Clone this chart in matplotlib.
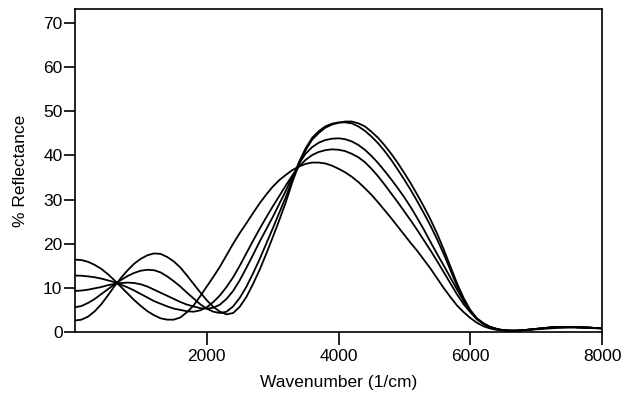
import matplotlib
matplotlib.use("Agg")
import matplotlib.pyplot as plt

wavenumber = list(range(0, 8001, 100))

curve1 = [16.4, 16.3, 15.9, 15.2, 14.3, 13.1, 11.7, 10.2, 8.7, 7.2,
          5.9, 4.7, 3.8, 3.1, 2.8, 2.8, 3.3, 4.5, 6.0, 8.1,
          10.3, 12.5, 14.8, 17.4, 20.0, 22.4, 24.6, 26.9, 29.1, 31.1,
          32.9, 34.4, 35.6, 36.7, 37.5, 38.1, 38.4, 38.4, 38.2, 37.7,
          37.0, 36.2, 35.2, 34.0, 32.6, 31.1, 29.4, 27.6, 25.8, 23.9,
          22.0, 20.1, 18.3, 16.3, 14.3, 12.1, 9.9, 7.9, 6.0, 4.5,
          3.2, 2.1, 1.3, 0.8, 0.5, 0.35, 0.3, 0.3, 0.4, 0.5,
          0.6, 0.7, 0.8, 0.9, 0.95, 1.0, 1.0, 0.95, 0.9, 0.85, 0.8]
curve2 = [12.8, 12.75, 12.6, 12.4, 12.1, 11.7, 11.3, 10.7, 10.1, 9.4,
          8.6, 7.8, 7.0, 6.4, 5.8, 5.3, 5.0, 4.7, 4.6, 4.9,
          5.6, 6.8, 8.3, 10.2, 12.4, 15.0, 17.8, 20.6, 23.3, 25.9,
          28.4, 30.8, 33.2, 35.5, 37.5, 39.0, 40.1, 40.8, 41.2, 41.4,
          41.3, 41.0, 40.4, 39.6, 38.5, 37.0, 35.3, 33.4, 31.4, 29.4,
          27.3, 25.2, 23.0, 20.7, 18.4, 16.0, 13.5, 11.0, 8.5, 6.3,
          4.5, 2.9, 1.8, 1.1, 0.6, 0.4, 0.3, 0.3, 0.4, 0.55,
          0.7, 0.85, 1.0, 1.1, 1.15, 1.15, 1.1, 1.05, 1.0, 0.9, 0.85]
curve3 = [9.3, 9.4, 9.6, 9.9, 10.2, 10.6, 10.9, 11.1, 11.2, 11.1,
          10.8, 10.3, 9.6, 8.9, 8.2, 7.5, 6.8, 6.2, 5.8, 5.4,
          5.3, 5.5, 6.2, 7.5, 9.3, 11.7, 14.5, 17.4, 20.4, 23.2,
          26.0, 29.0, 32.0, 35.2, 38.2, 40.4, 41.9, 42.9, 43.5, 43.8,
          43.9, 43.7, 43.2, 42.4, 41.3, 39.9, 38.3, 36.5, 34.6, 32.6,
          30.5, 28.2, 25.7, 23.1, 20.3, 17.6, 15.0, 12.3, 9.6, 7.0,
          4.8, 3.1, 2.0, 1.2, 0.7, 0.4, 0.3, 0.3, 0.4, 0.55,
          0.7, 0.85, 1.0, 1.1, 1.15, 1.15, 1.1, 1.05, 1.0, 0.9, 0.85]
curve4 = [5.6, 5.9, 6.6, 7.5, 8.6, 9.7, 10.8, 11.8, 12.7, 13.4,
          13.9, 14.1, 14.0, 13.5, 12.6, 11.5, 10.3, 8.9, 7.6, 6.3,
          5.3, 4.6, 4.3, 4.6, 5.8, 7.7, 10.2, 13.2, 16.4, 19.9,
          23.4, 27.0, 30.6, 34.5, 38.5, 41.6, 44.0, 45.5, 46.6, 47.2,
          47.5, 47.5, 47.3, 46.6, 45.6, 44.3, 42.8, 41.0, 39.0, 36.8,
          34.5, 32.1, 29.5, 26.8, 24.0, 20.9, 17.6, 14.0, 10.4, 7.3,
          4.8, 3.0, 1.9, 1.1, 0.7, 0.4, 0.3, 0.3, 0.4, 0.55,
          0.7, 0.85, 1.0, 1.1, 1.15, 1.15, 1.1, 1.05, 1.0, 0.9, 0.85]
curve5 = [2.6, 2.8, 3.5, 4.7, 6.3, 8.3, 10.4, 12.3, 14.0, 15.5,
          16.6, 17.4, 17.8, 17.7, 17.0, 16.0, 14.6, 12.8, 10.9, 9.0,
          7.2, 5.7, 4.6, 4.0, 4.3, 5.7, 7.9, 10.8, 14.0, 17.6,
          21.4, 25.3, 29.4, 34.0, 38.0, 41.2, 43.6, 45.1, 46.3, 47.0,
          47.4, 47.7, 47.7, 47.3, 46.6, 45.4, 44.0, 42.3, 40.4, 38.3,
          36.0, 33.6, 31.0, 28.3, 25.4, 22.2, 18.6, 14.8, 11.0, 7.7,
          5.0, 3.1, 1.9, 1.1, 0.7, 0.4, 0.3, 0.3, 0.4, 0.55,
          0.7, 0.85, 1.0, 1.1, 1.15, 1.15, 1.1, 1.05, 1.0, 0.9, 0.85]

x_ticks = [2000, 4000, 6000, 8000]
y_ticks = [0, 10, 20, 30, 40, 50, 60, 70]

plt.rcParams['font.family'] = ['Liberation Sans', 'DejaVu Sans']

fig = plt.figure(figsize=(6.23, 3.96), dpi=100)
ax = fig.add_axes([75/623, 1-332/396, (602-75)/623, (332-9)/396])

for c in (curve1, curve2, curve3, curve4, curve5):
    ax.plot(wavenumber, c, color='black', lw=1.3, solid_joinstyle='round')

ax.set_xlim(0, 8000)
ax.set_ylim(0, 73.2)
ax.set_xticks(x_ticks)
ax.set_yticks(y_ticks)
ax.tick_params(direction='out', width=1.2, labelsize=12.5, colors='black')
ax.tick_params(axis='x', length=9, pad=3)
ax.tick_params(axis='y', length=8, pad=1)
for s in ax.spines.values():
    s.set_linewidth(1.2)
ax.set_xlabel('Wavenumber (1/cm)', fontsize=12.5, labelpad=8)
ax.set_ylabel('% Reflectance', fontsize=12.5, labelpad=11)

fig.savefig('out.png', dpi=100)
